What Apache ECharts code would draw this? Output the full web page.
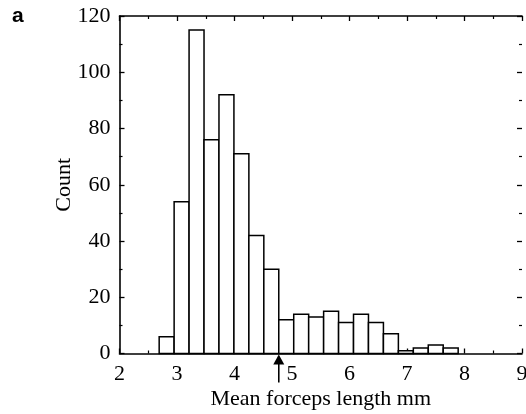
<!DOCTYPE html>
<html><head><meta charset="utf-8">
<script src="https://cdn.jsdelivr.net/npm/echarts@6/dist/echarts.min.js"></script>
<style>html,body{margin:0;padding:0;background:#fff}#c{width:526px;height:414px}</style>
</head><body><div id="c"></div>
<script>
const binStart = 2.69;
const binWidth = 0.26;
const counts = [6, 54, 115, 76, 92, 71, 42, 30, 12, 14, 13, 15, 11, 14, 11, 7, 1, 2, 3, 2];
const arrowX = 4.77;
const xTicks = [2, 3, 4, 5, 6, 7, 8, 9];
const yTicks = [0, 20, 40, 60, 80, 100, 120];

const bins = counts.map((c, i) => [binStart + i * binWidth, binStart + (i + 1) * binWidth, c]);
const font = 'Liberation Serif, Times New Roman, serif';
const chart = echarts.init(document.getElementById('c'));
const axisCommon = {
  type: 'value', min: 2, max: 9, interval: 1,
  axisLine: {show: true, onZero: false, lineStyle: {color: '#000', width: 1.6}},
  axisTick: {show: true, inside: true, length: 5, lineStyle: {color: '#000', width: 1.3}},
  minorTick: {show: true, splitNumber: 2, length: 3, lineStyle: {color: '#000', width: 1.2}},
  splitLine: {show: false}
};
chart.setOption({
  animation: false,
  grid: {left: 119.5, right: 4, top: 16, bottom: 60.5, containLabel: false, outerBoundsMode: 'none'},
  graphic: [
    {type: 'text', left: 12, top: 6, style: {text: 'a', font: 'bold 21px Liberation Sans, Arial, sans-serif', fill: '#000'}}
  ],
  xAxis: [
    Object.assign({}, axisCommon, {
      position: 'bottom',
      name: 'Mean forceps length mm', nameLocation: 'middle', nameGap: 35, nameMoveOverlap: false,
      nameTextStyle: {fontFamily: font, fontSize: 22, color: '#000'},
      axisLabel: {fontFamily: font, fontSize: 22, color: '#000', margin: 10,
        formatter: v => xTicks.includes(v) ? String(v) : ''}
    }),
    Object.assign({}, axisCommon, {position: 'top', axisLabel: {show: false}})
  ],
  yAxis: [
    {
      type: 'value', min: 0, max: 120, interval: 20, position: 'left',
      name: 'Count', nameLocation: 'middle', nameGap: 44, nameMoveOverlap: false,
      nameTextStyle: {fontFamily: font, fontSize: 22, color: '#000'},
      axisLine: {show: true, onZero: false, lineStyle: {color: '#000', width: 1.6}},
      axisTick: {show: true, inside: true, length: 5, lineStyle: {color: '#000', width: 1.3}},
      minorTick: {show: true, splitNumber: 2, length: 3, lineStyle: {color: '#000', width: 1.2}},
      splitLine: {show: false},
      axisLabel: {fontFamily: font, fontSize: 22, color: '#000', margin: 9,
        formatter: v => yTicks.includes(v) ? String(v) : ''}
    },
    {
      type: 'value', min: 0, max: 120, interval: 20, position: 'right',
      axisLine: {show: false},
      axisTick: {show: true, inside: true, length: 5, lineStyle: {color: '#000', width: 1.3}},
      minorTick: {show: true, splitNumber: 2, length: 3, lineStyle: {color: '#000', width: 1.2}},
      splitLine: {show: false}, axisLabel: {show: false}
    }
  ],
  series: [
    {
      type: 'custom', xAxisIndex: 0, yAxisIndex: 0,
      data: bins,
      encode: {x: [0, 1], y: 2},
      renderItem: (params, api) => {
        const p0 = api.coord([api.value(0), api.value(2)]);
        const p1 = api.coord([api.value(1), 0]);
        return {type: 'rect', shape: {x: p0[0], y: p0[1], width: p1[0] - p0[0], height: p1[1] - p0[1]},
          style: {fill: '#fff', stroke: '#000', lineWidth: 1.5}};
      },
      z: 1
    },
    {
      type: 'custom', xAxisIndex: 0, yAxisIndex: 0, clip: false,
      data: [[arrowX, 0]],
      renderItem: (params, api) => {
        const p = api.coord([api.value(0), api.value(1)]);
        return {type: 'group', children: [
          {type: 'polygon', shape: {points: [[p[0], p[1] + 1], [p[0] - 5.5, p[1] + 11], [p[0] + 5.5, p[1] + 11]]}, style: {fill: '#000'}},
          {type: 'line', shape: {x1: p[0], y1: p[1] + 10, x2: p[0], y2: p[1] + 29}, style: {stroke: '#000', lineWidth: 1.6}}
        ]};
      },
      z: 5
    }
  ]
});
</script></body></html>
